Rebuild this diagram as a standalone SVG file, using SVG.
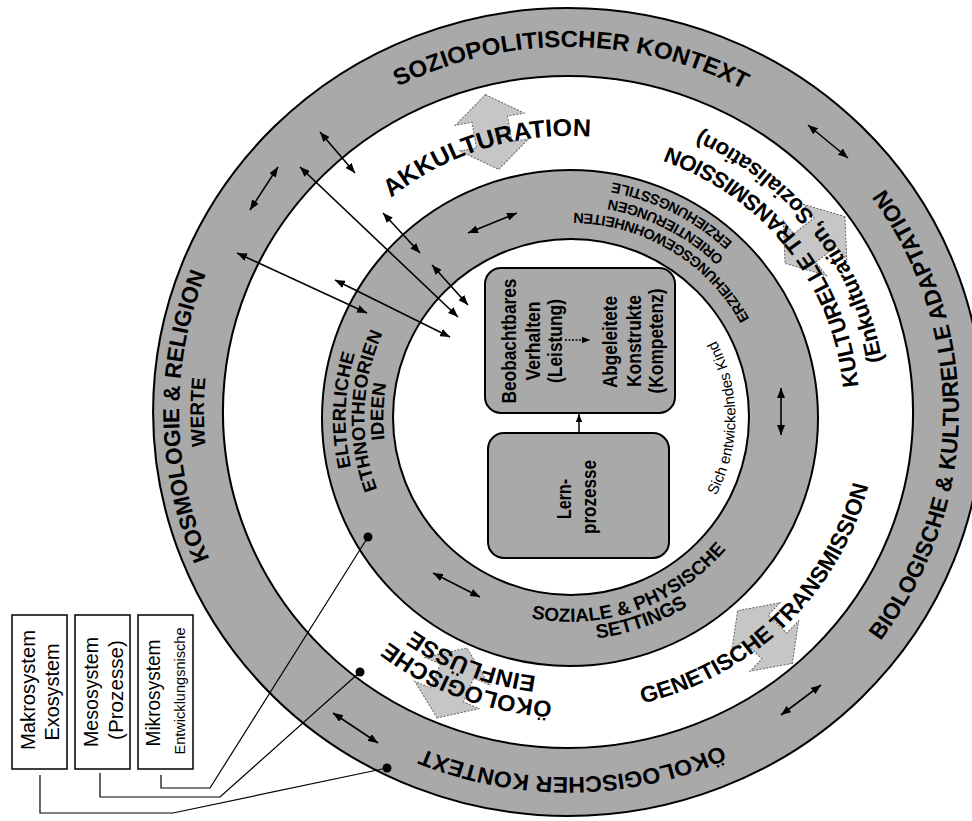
<svg xmlns="http://www.w3.org/2000/svg" width="972" height="821" viewBox="0 0 972 821">
<defs>
<style>
.ring{fill:#a9a9a9;stroke:#000;stroke-width:2}
.hole{fill:#fff;stroke:#000;stroke-width:2}
.big{fill:#c6c6c6;stroke:#666;stroke-width:1;stroke-dasharray:2 1.5}
.t{font-family:"Liberation Sans",Arial,sans-serif;font-weight:bold;fill:#000}
.n{font-family:"Liberation Sans",Arial,sans-serif;fill:#000}
.con line{stroke:#000;stroke-width:1.6;marker-start:url(#ah);marker-end:url(#ah)}
.box{fill:#a9a9a9;stroke:#000;stroke-width:2}
.leg rect{fill:#fff;stroke:#000;stroke-width:1.5}
.lead{fill:none;stroke:#000;stroke-width:1.2}
</style>
<marker id="ah" viewBox="0 0 10 8" refX="10" refY="4" markerWidth="10" markerHeight="8" markerUnits="userSpaceOnUse" orient="auto-start-reverse"><path d="M0,0 L10,4 L0,8 z" fill="#000"/></marker>
<marker id="ahs" viewBox="0 0 10 8" refX="10" refY="4" markerWidth="8" markerHeight="7" markerUnits="userSpaceOnUse" orient="auto"><path d="M0,0 L10,4 L0,8 z" fill="#000"/></marker>
<path id="pSozio" d="M 204.7 377.0 A 365 365 0 0 1 931.9 383.3"/>
<path id="pBio" d="M 597.9 791.8 A 381 381 0 0 0 604.5 32.8"/>
<path id="pOekK" d="M 932.0 439.4 A 365 365 0 0 1 204.8 448.2"/>
<path id="pKos" d="M 539.6 789.9 A 379 379 0 0 1 530.4 34.9"/>
<path id="pWerte" d="M 537.1 764.7 A 354 354 0 0 1 537.1 59.3"/>
<path id="pAkk" d="M 300.5 471.7 A 276 276 0 0 1 825.0 306.4"/>
<path id="pKul1" d="M 761.3 619.2 A 282 282 0 0 0 417.7 174.7"/>
<path id="pKul2" d="M 778.5 638.7 A 308 308 0 0 0 404.0 152.5"/>
<path id="pGen" d="M 376.0 640.8 A 300 300 0 0 0 800.8 220.4"/>
<path id="pOek1" d="M 831.8 536.8 A 290 290 0 0 1 290.6 334.5"/>
<path id="pOek2" d="M 809.1 528.6 A 266 266 0 0 1 314.3 338.7"/>
<path id="pElt" d="M 542.6 640.8 A 224.5 224.5 0 0 1 558.3 193.8"/>
<path id="pEth" d="M 545.0 622.0 A 205.5 205.5 0 0 1 559.3 212.8"/>
<path id="pIde" d="M 547.2 603.6 A 187 187 0 0 1 560.2 231.3"/>
<path id="pErz1" d="M 754.3 507.9 A 205 205 0 0 0 404.2 297.5"/>
<path id="pErz2" d="M 775.8 501.2 A 222 222 0 0 0 381.7 300.4"/>
<path id="pErz3" d="M 792.4 505.6 A 239 239 0 0 0 366.2 293.1"/>
<path id="pSoz1" d="M 384.4 502.6 A 204 204 0 0 0 767.5 366.9"/>
<path id="pSoz2" d="M 368.0 510.1 A 222 222 0 0 0 784.9 362.4"/>
<path id="pKind" d="M 584.4 582.4 A 165 165 0 0 0 584.4 253.6"/>
</defs>

<g id="outer-ring" transform="matrix(1.027 0 0 1 -15.34 0)">
<circle class="ring" cx="568" cy="412" r="404"/>
<circle class="hole" cx="568" cy="412" r="336"/>
</g>
<g id="middle-ring">
<circle class="ring" cx="570" cy="418" r="248"/>
<circle class="hole" cx="571" cy="417" r="178"/>
</g>

<g id="bigarrows">
<polygon class="big" points="0,-38 35,-13 18,-13 18,13 35,13 0,38 -35,13 -18,13 -18,-13 -35,-13" transform="translate(492,132) rotate(-10)"/>
<polygon class="big" points="0,-38 35,-13 18,-13 18,13 35,13 0,38 -35,13 -18,13 -18,-13 -35,-13" transform="translate(815,240) rotate(52)"/>
<polygon class="big" points="0,-38 35,-13 18,-13 18,13 35,13 0,38 -35,13 -18,13 -18,-13 -35,-13" transform="translate(765,637) rotate(134)"/>
<polygon class="big" points="0,-38 35,-13 18,-13 18,13 35,13 0,38 -35,13 -18,13 -18,-13 -35,-13" transform="translate(452,683) rotate(203)"/>
</g>

<g id="kind">
<rect class="box" x="485" y="268" width="190" height="145" rx="16"/>
<rect class="box" x="488" y="433" width="181" height="125" rx="16"/>
<g class="t" font-size="20" text-anchor="middle" dominant-baseline="central">
<text transform="translate(509,341) rotate(-90)" textLength="125" lengthAdjust="spacingAndGlyphs">Beobachtbares</text>
<text transform="translate(533,341) rotate(-90)" textLength="79" lengthAdjust="spacingAndGlyphs">Verhalten</text>
<text transform="translate(555,341) rotate(-90)" textLength="84" lengthAdjust="spacingAndGlyphs">(Leistung)</text>
<text transform="translate(610,342) rotate(-90)" textLength="92" lengthAdjust="spacingAndGlyphs">Abgeleitete</text>
<text transform="translate(634,341) rotate(-90)" textLength="92" lengthAdjust="spacingAndGlyphs">Konstrukte</text>
<text transform="translate(656,341) rotate(-90)" textLength="105" lengthAdjust="spacingAndGlyphs">(Kompetenz)</text>
<text transform="translate(564,499) rotate(-90)" textLength="40" lengthAdjust="spacingAndGlyphs">Lern-</text>
<text transform="translate(589,497) rotate(-90)" textLength="74" lengthAdjust="spacingAndGlyphs">prozesse</text>
</g>
<line x1="579" y1="433" x2="579" y2="414" stroke="#000" stroke-width="1.5" marker-end="url(#ahs)"/>
<line x1="565" y1="340" x2="590" y2="340" stroke="#000" stroke-width="1.3" stroke-dasharray="2 1.5" marker-end="url(#ahs)"/>
</g>

<g id="labels-outer" transform="matrix(1.027 0 0 1 -15.34 0)">
<text class="t" font-size="23.5" text-anchor="middle"><textPath href="#pSozio" startOffset="50%">SOZIOPOLITISCHER KONTEXT</textPath></text>
<text class="t" font-size="22.5" text-anchor="middle"><textPath href="#pBio" startOffset="50%">BIOLOGISCHE &amp; KULTURELLE ADAPTATION</textPath></text>
<text class="t" font-size="22.5" text-anchor="middle"><textPath href="#pOekK" startOffset="50%">ÖKOLOGISCHER KONTEXT</textPath></text>
<text class="t" font-size="22.5" text-anchor="middle"><textPath href="#pKos" startOffset="50%">KOSMOLOGIE &amp; RELIGION</textPath></text>
<text class="t" font-size="19" text-anchor="middle"><textPath href="#pWerte" startOffset="50%">WERTE</textPath></text>
<text class="t" font-size="24.5" text-anchor="middle"><textPath href="#pAkk" startOffset="50%">AKKULTURATION</textPath></text>
<text class="t" font-size="22" text-anchor="middle"><textPath href="#pKul1" startOffset="50%">KULTURELLE TRANSMISSION</textPath></text>
<text class="t" font-size="22" text-anchor="middle"><textPath href="#pKul2" startOffset="50%">(Enkulturation, Sozialisation)</textPath></text>
<text class="t" font-size="22.5" text-anchor="middle"><textPath href="#pGen" startOffset="50%">GENETISCHE TRANSMISSION</textPath></text>
<text class="t" font-size="23" text-anchor="middle"><textPath href="#pOek1" startOffset="50%">ÖKOLOGISCHE</textPath></text>
<text class="t" font-size="23" text-anchor="middle"><textPath href="#pOek2" startOffset="50%">EINFLÜSSE</textPath></text>
</g>

<g id="labels-middle">
<text class="t" font-size="18.5" text-anchor="middle"><textPath href="#pElt" startOffset="50%">ELTERLICHE</textPath></text>
<text class="t" font-size="18.5" text-anchor="middle"><textPath href="#pEth" startOffset="50%">ETHNOTHEORIEN</textPath></text>
<text class="t" font-size="18.5" text-anchor="middle"><textPath href="#pIde" startOffset="50%">IDEEN</textPath></text>
<text class="t" font-size="14.5" text-anchor="middle"><textPath href="#pErz1" startOffset="50%">ERZIEHUNGSGEWOHNHEITEN</textPath></text>
<text class="t" font-size="14.5" text-anchor="middle"><textPath href="#pErz2" startOffset="50%">ORIENTIERUNGEN</textPath></text>
<text class="t" font-size="14.5" text-anchor="middle"><textPath href="#pErz3" startOffset="50%">ERZIEHUNGSSTILE</textPath></text>
<text class="t" font-size="19" text-anchor="middle"><textPath href="#pSoz1" startOffset="50%">SOZIALE &amp; PHYSISCHE</textPath></text>
<text class="t" font-size="19.5" text-anchor="middle"><textPath href="#pSoz2" startOffset="50%">SETTINGS</textPath></text>
<text class="n" font-size="15" text-anchor="middle"><textPath href="#pKind" startOffset="50%">Sich entwickelndes Kind</textPath></text>
</g>

<g id="connectors" class="con">
<line x1="320" y1="132" x2="355" y2="173"/>
<line x1="278" y1="167" x2="250" y2="210"/>
<line x1="300" y1="167" x2="458" y2="317"/>
<line x1="237" y1="253" x2="367" y2="313"/>
<line x1="335" y1="280" x2="450" y2="337"/>
<line x1="383" y1="213" x2="420" y2="253"/>
<line x1="432" y1="265" x2="468" y2="305"/>
<line x1="468" y1="233" x2="517" y2="213"/>
<line x1="808" y1="125" x2="848" y2="158"/>
<line x1="781" y1="388" x2="781" y2="435"/>
<line x1="433" y1="573" x2="480" y2="597"/>
<line x1="333" y1="713" x2="378" y2="743"/>
<line x1="781" y1="715" x2="821" y2="685"/>
</g>

<g id="legend">
<g id="makro" class="leg">
<rect x="12" y="615" width="55" height="154"/>
<text class="n" font-size="21" text-anchor="middle" dominant-baseline="central" transform="translate(27,690) rotate(-90)" textLength="120" lengthAdjust="spacingAndGlyphs">Makrosystem</text>
<text class="n" font-size="21" text-anchor="middle" dominant-baseline="central" transform="translate(51,692) rotate(-90)" textLength="97" lengthAdjust="spacingAndGlyphs">Exosystem</text>
</g>
<g id="meso" class="leg">
<rect x="75" y="615" width="55" height="154"/>
<text class="n" font-size="21" text-anchor="middle" dominant-baseline="central" transform="translate(90,692) rotate(-90)" textLength="110" lengthAdjust="spacingAndGlyphs">Mesosystem</text>
<text class="n" font-size="21" text-anchor="middle" dominant-baseline="central" transform="translate(115,690) rotate(-90)" textLength="100" lengthAdjust="spacingAndGlyphs">(Prozesse)</text>
</g>
<g id="mikro" class="leg">
<rect x="138" y="615" width="55" height="154"/>
<text class="n" font-size="21" text-anchor="middle" dominant-baseline="central" transform="translate(152,693) rotate(-90)" textLength="107" lengthAdjust="spacingAndGlyphs">Mikrosystem</text>
<text class="n" font-size="15" text-anchor="middle" dominant-baseline="central" transform="translate(179,691) rotate(-90)" textLength="127" lengthAdjust="spacingAndGlyphs">Entwicklungsnische</text>
</g>
<polyline class="lead" points="161,775 161,788 210,788 368,537"/>
<polyline class="lead" points="100,773 100,797 220,797 360,672"/>
<polyline class="lead" points="40,775 40,813 173,813 387,768"/>
<circle cx="368" cy="537" r="4.5"/>
<circle cx="360" cy="672" r="4.5"/>
<circle cx="387" cy="768" r="4.5"/>
</g>
</svg>
